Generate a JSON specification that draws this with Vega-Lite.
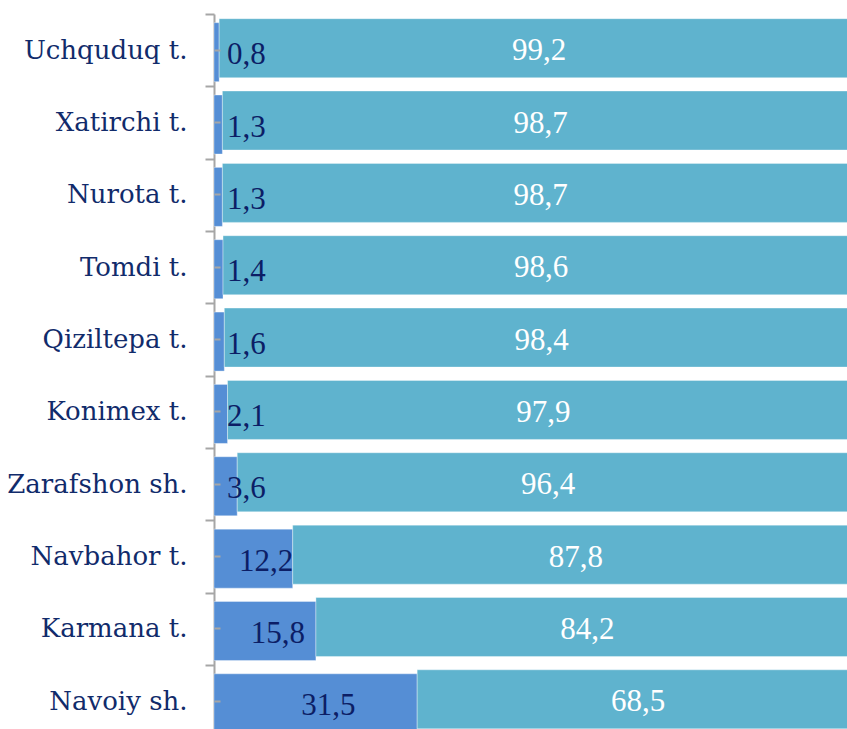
{
  "$schema": "https://vega.github.io/schema/vega-lite/v6.json",
  "autosize": {"type": "none"},
  "padding": {"left": 214, "top": 14, "right": 0, "bottom": 0},
  "width": 633,
  "height": 715,
  "background": "white",
  "config": {"view": {"stroke": null}},
  "data": {
    "values": [
      {"region": "Uchquduq t.", "a": 0.8, "b": 99.2},
      {"region": "Xatirchi t.", "a": 1.3, "b": 98.7},
      {"region": "Nurota t.", "a": 1.3, "b": 98.7},
      {"region": "Tomdi t.", "a": 1.4, "b": 98.6},
      {"region": "Qiziltepa t.", "a": 1.6, "b": 98.4},
      {"region": "Konimex t.", "a": 2.1, "b": 97.9},
      {"region": "Zarafshon sh.", "a": 3.6, "b": 96.4},
      {"region": "Navbahor t.", "a": 12.2, "b": 87.8},
      {"region": "Karmana t.", "a": 15.8, "b": 84.2},
      {"region": "Navoiy sh.", "a": 31.5, "b": 68.5}
    ]
  },
  "transform": [
    {"calculate": "max(datum.a / 2 + 2, 5)", "as": "aPos"},
    {"calculate": "datum.a + datum.b / 2", "as": "bPos"},
    {"calculate": "replace(format(datum.a, '.1f'), '.', ',')", "as": "aLabel"},
    {"calculate": "replace(format(datum.b, '.1f'), '.', ',')", "as": "bLabel"}
  ],
  "layer": [
    {
      "mark": {"type": "bar", "size": 59, "yOffset": 2, "color": "#558ED5", "stroke": "#ffffff", "strokeOpacity": 0.35, "strokeWidth": 1},
      "encoding": {
        "y": {
          "field": "region", "type": "nominal", "sort": null,
          "scale": {"range": [0, 723.5], "paddingInner": 0, "paddingOuter": 0},
          "axis": {
            "title": null, "tickBand": "extent", "domainColor": "#A6A6A6", "domainWidth": 2,
            "tickColor": "#A6A6A6", "tickWidth": 2, "tickSize": 9, "labelPadding": 18,
            "labelFont": "DejaVu Serif", "labelFontSize": 26, "labelColor": "#112B6B", "labelLimit": 400,
            "labelBaseline": "middle", "grid": false
          }
        },
        "x": {
          "field": "a", "type": "quantitative",
          "scale": {"domain": [0, 100], "range": [0, 645], "nice": false},
          "axis": {"title": null, "labels": false, "ticks": false, "domain": false, "grid": true, "gridColor": "#EBEBEB", "gridWidth": 1, "values": [20, 40, 60, 80, 100]}
        }
      }
    },
    {
      "mark": {"type": "bar", "size": 59, "yOffset": -2, "color": "#5FB3CE", "stroke": "#ffffff", "strokeOpacity": 0.35, "strokeWidth": 1},
      "encoding": {
        "y": {"field": "region", "type": "nominal", "sort": null, "scale": {"range": [0, 723.5], "paddingInner": 0, "paddingOuter": 0}, "axis": null},
        "x": {"field": "a", "type": "quantitative", "scale": {"domain": [0, 100], "range": [0, 645], "nice": false}, "axis": null},
        "x2": {"datum": 100}
      }
    },
    {
      "mark": {"type": "text", "font": "serif", "fontSize": 31, "color": "#0C1E66", "baseline": "middle", "align": "center", "dy": 5},
      "encoding": {
        "y": {"field": "region", "type": "nominal", "sort": null, "scale": {"range": [0, 723.5], "paddingInner": 0, "paddingOuter": 0}, "axis": null},
        "x": {"field": "aPos", "type": "quantitative", "scale": {"domain": [0, 100], "range": [0, 645], "nice": false}, "axis": null},
        "text": {"field": "aLabel"}
      }
    },
    {
      "mark": {"type": "text", "font": "Liberation Serif", "fontSize": 31, "color": "#FFFFFF", "baseline": "middle", "align": "center", "dy": 1},
      "encoding": {
        "y": {
          "field": "region", "type": "nominal", "sort": null,
          "scale": {"range": [0, 723.5], "paddingInner": 0, "paddingOuter": 0},
          "axis": {"title": null, "orient": "left", "labels": false, "domain": false, "tickBand": "center", "tickColor": "#A6A6A6", "tickWidth": 2, "tickSize": -6, "grid": false, "zindex": 2}
        },
        "x": {"field": "bPos", "type": "quantitative", "scale": {"domain": [0, 100], "range": [0, 645], "nice": false}, "axis": null},
        "text": {"field": "bLabel"}
      }
    }
  ],
  "resolve": {"scale": {"y": "independent", "x": "shared"}}
}
